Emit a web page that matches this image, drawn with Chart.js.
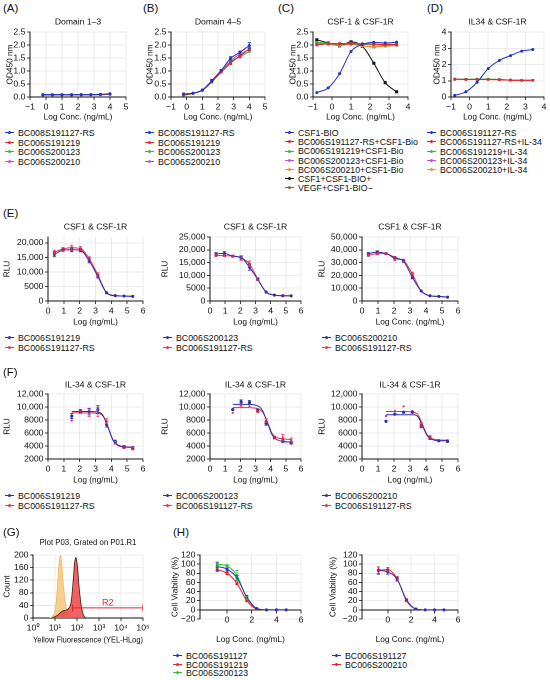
<!DOCTYPE html>
<html lang="en">
<head>
<meta charset="utf-8">
<title>CSF-1R antibody panels</title>
<script src="https://cdn.jsdelivr.net/npm/chart.js@4.4.1/dist/chart.umd.min.js"></script>
<style>
  html, body { margin: 0; padding: 0; background: #fff; }
  body { position: relative; width: 550px; height: 680px; overflow: hidden;
         font-family: 'Liberation Sans', Arial, sans-serif; color: #111; }
  canvas { position: absolute; }
  .tag { position: absolute; font-size: 11.5px; line-height: 14px; }
  .leg { position: absolute; font-size: 8.8px; line-height: 10px; white-space: nowrap; }
  .mk { display: inline-block; position: relative; width: 9px; height: 1px; margin-right: 4px; vertical-align: middle; top: -1px; }
  .mk i { position: absolute; left: 3px; top: -1px; width: 3px; height: 3px; border-radius: 50%; background: inherit; }
</style>
</head>
<body>
<script>
// ---------- data ----------
// (A)/(B) binding ELISA
const abX = [-0.2, 0.4, 1.0, 1.6, 2.2, 2.8, 3.4, 4.0];
const abNames = ['BC008S191127-RS', 'BC006S191219', 'BC006S200123', 'BC006S200210'];
const domain13 = [
  [0.09, 0.09, 0.09, 0.09, 0.09, 0.09, 0.10, 0.12],
  [0.08, 0.08, 0.08, 0.08, 0.08, 0.09, 0.09, 0.11],
  [0.07, 0.07, 0.08, 0.08, 0.08, 0.08, 0.09, 0.10],
  [0.08, 0.08, 0.08, 0.08, 0.09, 0.09, 0.10, 0.13]
];
const domain45 = [
  [0.12, 0.15, 0.27, 0.63, 1.02, 1.48, 1.72, 1.98],
  [0.08, 0.14, 0.26, 0.58, 0.95, 1.30, 1.58, 1.85],
  [0.07, 0.13, 0.25, 0.57, 0.97, 1.35, 1.55, 1.75],
  [0.08, 0.14, 0.27, 0.60, 1.00, 1.38, 1.65, 1.82]
];
const domain45Err = [
  [0, 0, 0, 0.05, 0.03, 0.07, 0.05, 0.12],
  [0, 0, 0, 0, 0, 0.05, 0.08, 0.06]
];
const odTicks = [0, 0.5, 1, 1.5, 2, 2.5];
const abXTicks = [-1, 0, 1, 2, 3, 4, 5];

// (C)/(D) ligand blocking
const cdX = [-0.8, -0.2, 0.4, 1.0, 1.6, 2.2, 2.8, 3.4];
const csfNames = ['CSF1-BIO', 'BC006S191127-RS+CSF1-Bio', 'BC006S191219+CSF1-Bio',
  'BC006S200123+CSF1-Bio', 'BC006S200210+CSF1-Bio', 'CSF1+CSF1-BIO+', 'VEGF+CSF1-BIO\u2212'];
const csfBlock = [
  [0.17, 0.35, 0.90, 1.75, 2.02, 2.10, 2.08, 2.11],
  [2.00, 2.05, 2.06, 2.05, 2.05, 2.03, 2.02, 2.02],
  [2.10, 2.07, 2.05, 2.06, 2.03, 2.02, 2.00, 2.01],
  [2.05, 2.06, 2.05, 2.07, 2.05, 2.04, 2.03, 2.03],
  [2.08, 2.03, 1.98, 2.02, 1.96, 1.94, 1.95, 1.98],
  [2.20, 2.08, 1.97, 2.12, 1.95, 1.30, 0.55, 0.20],
  [2.08, 2.04, 2.00, 2.06, 1.98, 1.93, 1.97, 2.00]
];
const il34Names = ['BC006S191127-RS', 'BC006S191127-RS+IL-34', 'BC006S191219+IL-34',
  'BC006S200123+IL-34', 'BC006S200210+IL-34'];
const il34Block = [
  [0.10, 0.32, 0.90, 1.75, 2.25, 2.55, 2.82, 2.92],
  [1.10, 1.08, 1.08, 1.08, 1.07, 1.03, 1.02, 1.03],
  [1.10, 1.09, 1.10, 1.10, 1.08, 1.05, 1.03, 1.03],
  [1.09, 1.09, 1.09, 1.09, 1.07, 1.04, 1.03, 1.03],
  [1.08, 1.08, 1.08, 1.08, 1.06, 1.04, 1.02, 1.02]
];
const cdXTicks = [-1, 0, 1, 2, 3, 4];
const il34YTicks = [0, 1, 2, 3, 4];

// (E)/(F) reporter assays, RLU
const eX = [0.4, 0.95, 1.5, 2.05, 2.6, 3.15, 3.7, 4.25, 4.8, 5.35];
const fX = [1.5, 2.05, 2.6, 3.15, 3.7, 4.25, 4.8, 5.35];
const logTicks = [0, 1, 2, 3, 4, 5, 6];
const pairNames = [
  ['BC006S191219', 'BC006S191127-RS'],
  ['BC006S200123', 'BC006S191127-RS'],
  ['BC006S200210', 'BC006S191127-RS']
];
const eRLU = [
  [[16000, 17500, 17600, 17400, 13800, 8400, 2800, 1800, 1700, 1600],
   [16800, 17900, 18300, 18000, 14600, 9000, 2900, 1900, 1700, 1600]],
  [[18400, 18600, 17500, 17000, 13200, 8400, 3500, 2300, 2100, 2000],
   [17800, 17700, 17600, 16800, 14500, 8600, 3400, 2300, 2000, 2000]],
  [[37000, 38200, 37000, 34000, 31000, 18500, 7800, 4000, 3600, 3000],
   [35800, 37000, 37000, 33000, 31500, 21000, 7900, 4100, 3500, 2900]]
];
const eErr = [
  [[800, 400, 600, 500, 700, 500, 0, 0, 0, 0], [700, 500, 900, 700, 600, 700, 0, 0, 0, 0]],
  [[500, 700, 300, 600, 1200, 400, 0, 0, 0, 0], [400, 400, 300, 900, 1100, 500, 0, 0, 0, 0]],
  [[800, 900, 500, 600, 900, 1200, 0, 0, 0, 0], [900, 700, 600, 1500, 1200, 1500, 0, 0, 0, 0]]
];
const eYMax = [22000, 25000, 50000];
const eYTicks = [
  [0, 5000, 10000, 15000, 20000],
  [0, 5000, 10000, 15000, 20000, 25000],
  [0, 10000, 20000, 30000, 40000, 50000]
];
const fRLU = [
  [[8600, 9400, 9300, 9600, 7300, 4600, 3900, 3700],
   [7900, 9200, 9100, 9200, 7800, 4500, 3800, 3600]],
  [[9600, 10800, 10700, 9500, 7500, 5300, 4800, 4500],
   [9100, 10300, 10100, 9300, 7900, 5300, 5300, 4900]],
  [[7800, 8900, 9200, 9200, 7100, 5200, 4800, 4700],
   [8600, 9400, 10100, 9400, 7300, 5400, 4900, 4900]]
];
const fErr = [
  [[400, 200, 500, 600, 400, 300, 200, 200], [0, 200, 600, 700, 400, 200, 200, 200]],
  [[0, 300, 300, 200, 300, 200, 300, 200], [0, 200, 0, 200, 300, 200, 500, 300]],
  [[0, 0, 0, 0, 300, 200, 0, 0], [0, 0, 0, 0, 300, 200, 0, 0]]
];
const fFitX = [1.5, 2.5, 3.2, 3.5, 3.8, 4.1, 4.4, 4.8, 5.35];
const fFit = [
  [[9300, 9300, 9200, 8600, 6800, 4900, 4100, 3850, 3800],
   [9100, 9100, 9000, 8500, 6900, 5000, 4200, 3900, 3800]],
  [[10400, 10400, 10100, 9300, 7500, 5700, 5000, 4700, 4600],
   [9900, 9900, 9700, 9100, 7600, 5900, 5300, 5100, 5000]],
  [[8800, 8800, 8800, 8500, 7000, 5500, 5000, 4800, 4800],
   [9300, 9300, 9200, 8800, 7200, 5600, 5100, 4950, 4900]]
];
const fYTicks = [2000, 4000, 6000, 8000, 10000, 12000];

// (G) flow cytometry histogram, x in decades of YEL-HLog
const gXOrange = [0.75, 0.85, 0.95, 1.0, 1.05, 1.1, 1.15, 1.2, 1.25, 1.3, 1.35, 1.4, 1.45, 1.5, 1.55, 1.6, 1.7];
const gOrange = [0, 3, 12, 25, 50, 95, 145, 185, 200, 180, 135, 95, 60, 38, 20, 8, 0];
const gXRed = [0.85, 1.0, 1.1, 1.2, 1.3, 1.4, 1.5, 1.6, 1.7, 1.75, 1.8, 1.85, 1.9, 1.95, 2.0, 2.05, 2.1, 2.2, 2.3, 2.4];
const gRed = [0, 4, 8, 14, 20, 24, 25, 28, 40, 60, 95, 140, 180, 192, 175, 140, 95, 35, 8, 0];
const gGateX = [1.8, 5.0];
const gGateY = [32, 32];
const gXTicks = [0, 1, 2, 3, 4, 5];
const gXLabels = ['10\u2070', '10\u00b9', '10\u00b2', '10\u00b3', '10\u2074', '10\u2075'];
const gYTicks = [0, 40, 80, 120, 160, 200];

// (H) cell viability
const hX = [-0.8, 0, 0.8, 1.6, 2.4, 3.2, 4.0, 4.8];
const h1Names = ['BC006S191127', 'BC006S191219', 'BC006S200123'];
const h1 = [
  [95, 89, 70, 28, 3, 0, 0, 0],
  [88, 80, 58, 20, 2, 0, 0, 0],
  [100, 96, 75, 26, 3, 0, 0, 0]
];
const h1Err = [[9, 4, 5, 4, 0, 0, 0, 0], [4, 3, 3, 2, 0, 0, 0, 0], [5, 3, 11, 3, 0, 0, 0, 0]];
const h2Names = ['BC006S191127', 'BC006S200210'];
const h2 = [
  [86, 83, 67, 22, 2, 0, 0, 0],
  [87, 88, 68, 20, 2, 0, 0, 0]
];
const h2Err = [[8, 5, 4, 2, 0, 0, 0, 0], [7, 5, 5, 2, 0, 0, 0, 0]];
const hXTicks = [0, 2, 4, 6];
const hYTicks = [-20, 0, 20, 40, 60, 80, 100, 120];

// ---------- styling ----------
const INK = '#111';
const GRID = '#e4e4e4';
const TICK_PX = 8.7, AXIS_PX = 8.3, TITLE_PX = 8.6;
const HALF = AXIS_PX * 1.2 / 2;
const BLUE = '#2233c4', RED = '#e8222c', GREEN = '#2dbf3c', MAGENTA = '#c24de0',
      ORANGE = '#f48a34', BLACK = '#111111', BROWN = '#9c5b2c';
const abColors = [BLUE, RED, GREEN, MAGENTA];
const csfColors = [BLUE, RED, GREEN, MAGENTA, ORANGE, BLACK, BROWN];
const il34Colors = [BLUE, RED, GREEN, MAGENTA, ORANGE];
const pairColors = ['#2b2fae', '#ea3350'];
const hColors = [BLUE, RED, GREEN];

Chart.defaults.font.family = "'Liberation Sans', Arial, sans-serif";
Chart.defaults.font.size = 8;
Chart.defaults.color = INK;

const minus = v => (v < 0 ? '\u2212' + Math.abs(v) : String(v));
const oneDp = v => v.toFixed(1);
const rlu = v => (v >= 10000 ? v.toLocaleString('en-US') : String(v));

function series(xs, ys, color, extra) {
  return Object.assign({
    data: xs.map((x, i) => ({x, y: ys[i]})),
    borderColor: color, backgroundColor: color,
    borderWidth: 1, pointRadius: 1.5, pointHoverRadius: 0, pointBorderWidth: 0,
    cubicInterpolationMode: 'monotone'
  }, extra);
}

// vertical error bars from dataset.err
const errorBars = {
  id: 'errorBars',
  afterDatasetsDraw(chart) {
    const {ctx, scales: {x, y}} = chart;
    chart.data.datasets.forEach(ds => {
      if (!ds.err) return;
      ctx.save();
      ctx.strokeStyle = ds.borderColor;
      ctx.lineWidth = 0.8;
      ds.data.forEach((p, j) => {
        const e = ds.err[j];
        if (!e) return;
        const px = x.getPixelForValue(p.x);
        const t = y.getPixelForValue(p.y + e), b = y.getPixelForValue(p.y - e);
        ctx.beginPath();
        ctx.moveTo(px, t); ctx.lineTo(px, b);
        ctx.moveTo(px - 1.6, t); ctx.lineTo(px + 1.6, t);
        ctx.moveTo(px - 1.6, b); ctx.lineTo(px + 1.6, b);
        ctx.stroke();
      });
      ctx.restore();
    });
  }
};

const gateLabel = {
  id: 'gateLabel',
  afterDatasetsDraw(chart) {
    const {ctx, scales: {x, y}} = chart;
    ctx.save();
    ctx.fillStyle = RED;
    ctx.font = "9px 'Liberation Sans', Arial, sans-serif";
    ctx.textAlign = 'center';
    ctx.textBaseline = 'bottom';
    ctx.fillText('R2', x.getPixelForValue(3.4), y.getPixelForValue(34));
    ctx.restore();
  }
};

function axis(o) {
  return {
    type: 'linear', min: o.min, max: o.max, position: o.position,
    afterBuildTicks: s => { s.ticks = o.ticks.map(v => ({value: v})); },
    afterFit: s => {
      if (o.isX) s.height = o.size; else s.width = o.size;
      s.paddingLeft = s.paddingRight = s.paddingTop = s.paddingBottom = 0;
    },
    grid: {color: GRID, lineWidth: 0.7, tickColor: INK, tickLength: 3, tickWidth: 0.8},
    border: {color: INK, width: 1},
    ticks: {color: INK, font: {size: TICK_PX}, padding: o.isX ? 2 : 1.5, maxRotation: 0, minRotation: 0,
            autoSkip: false, callback: (v, i) => o.fmt(v, i)},
    title: {display: !!o.title, text: o.title, color: INK, font: {size: AXIS_PX}, padding: 0}
  };
}

// box: plot area (x0..x1, y0..y1) in page px, tx = y-title centre, ty = title centre, xt = x-title centre
function panel(box, title, datasets, xo, yo, plugins) {
  const left = Math.round(box.tx - HALF);
  const top = Math.round(box.ty != null ? box.ty - TITLE_PX * 0.6 : box.y0 - 6);
  const right = Math.round(box.x1 + (box.r || 7));
  const bottom = Math.round(box.xt + 6);
  const c = document.createElement('canvas');
  c.width = right - left;
  c.height = bottom - top;
  Object.assign(c.style, {left: left + 'px', top: top + 'px',
    width: (right - left) + 'px', height: (bottom - top) + 'px'});
  document.body.appendChild(c);

  const onZero = box.zero != null;
  const xH = box.xt + HALF - (onZero ? box.zero : box.y1);
  xo.isX = true; xo.size = xH;
  yo.size = box.x0 - left;
  if (onZero) xo.position = {y: 0};

  new Chart(c, {
    type: 'line',
    data: {datasets},
    options: {
      responsive: false, animation: false, devicePixelRatio: 2,
      layout: {padding: {
        left: 0, right: right - box.x1,
        top: box.ty != null ? 0 : box.y0 - top,
        bottom: onZero ? bottom - box.y1 : bottom - box.y1 - xH
      }},
      plugins: {
        legend: {display: false}, tooltip: {enabled: false},
        title: {display: !!title, text: title, fullSize: false, color: INK,
                font: {size: box.ts || TITLE_PX, weight: 'normal'},
                padding: {top: 0, bottom: box.y0 - top - (box.ts || TITLE_PX) * 1.2}}
      },
      scales: {x: axis(xo), y: axis(yo)}
    },
    plugins: [errorBars].concat(plugins || [])
  });
}

function legend(x, y, step, names, colors) {
  names.forEach((n, i) => {
    const d = document.createElement('div');
    d.className = 'leg';
    d.style.left = x + 'px';
    d.style.top = (y + i * step - 5) + 'px';
    d.innerHTML = '<span class="mk" style="background:' + colors[i] + '"><i></i></span>' + n;
    document.body.appendChild(d);
  });
}

function tag(x, y, t) {
  const d = document.createElement('div');
  d.className = 'tag';
  d.style.left = x + 'px';
  d.style.top = (y - 7) + 'px';
  d.textContent = t;
  document.body.appendChild(d);
}

// ---------- row 1: A-D ----------
const odAxis = () => ({min: 0, max: 2.5, ticks: odTicks, fmt: oneDp, title: 'OD450 nm'});
const concAxis = (max, ticks) => ({min: -1, max, ticks, fmt: minus, title: 'Log Conc. (ng/mL)'});

panel({x0: 30, x1: 126, y0: 32, y1: 97, tx: 10, ty: 22, xt: 117}, 'Domain 1\u20133',
  domain13.map((ys, i) => series(abX, ys, abColors[i])),
  concAxis(5, abXTicks), odAxis());
panel({x0: 171, x1: 265, y0: 32, y1: 97, tx: 150, ty: 22, xt: 117}, 'Domain 4\u20135',
  domain45.map((ys, i) => series(abX, ys, abColors[i], {err: domain45Err[i]})),
  concAxis(5, abXTicks), odAxis());
panel({x0: 313, x1: 408, y0: 32, y1: 97, tx: 293, ty: 22, xt: 117}, 'CSF-1 & CSF-1R',
  csfBlock.map((ys, i) => series(cdX, ys, csfColors[i],
    i >= 5 ? {pointStyle: 'rect', pointRadius: 2.2} : {})),
  concAxis(4, cdXTicks), odAxis());
panel({x0: 451, x1: 544, y0: 32, y1: 97, tx: 437, ty: 22, xt: 117, r: 5}, 'IL34 & CSF-1R',
  il34Block.map((ys, i) => series(cdX, ys, il34Colors[i],
    i > 0 ? {pointStyle: 'rect', pointRadius: 1.8} : {})),
  concAxis(4, cdXTicks), {min: 0, max: 4, ticks: il34YTicks, fmt: String, title: 'OD450 nm'});

legend(5, 133, 9.6, abNames, abColors);
legend(145, 133, 9.6, abNames, abColors);
legend(285, 133, 9.2, csfNames, csfColors);
legend(427, 133, 9.3, il34Names, il34Colors);

// ---------- rows 2-3: E, F ----------
const eBoxes = [
  {x0: 48, x1: 143, tx: 7},
  {x0: 210, x1: 301, tx: 165},
  {x0: 362, x1: 458, tx: 322}
];
const eXTitles = ['Log (ng/mL)', 'Log (ng/mL)', 'Log Conc. (ng/mL)'];
const legX = [5, 163, 322];

eBoxes.forEach((b, k) => {
  panel(Object.assign({y0: 237, y1: 301, ty: 227, xt: 322}, b), 'CSF1 & CSF-1R',
    eRLU[k].map((ys, i) => series(eX, ys, pairColors[i], {err: eErr[k][i]})),
    {min: 0, max: 6, ticks: logTicks, fmt: String, title: eXTitles[k]},
    {min: 0, max: eYMax[k], ticks: eYTicks[k], fmt: rlu, title: 'RLU'});
  legend(legX[k], 338, 10, pairNames[k], pairColors);

  // measured points (no line) plus the fitted curve for each compound
  const fSets = [];
  fRLU[k].forEach((ys, i) => {
    fSets.push(series(fX, ys, pairColors[i], {err: fErr[k][i], showLine: false,
      pointStyle: i ? 'rect' : 'circle', pointRadius: i ? 1.4 : 1.6}));
    fSets.push(series(fFitX, fFit[k][i], pairColors[i], {pointRadius: 0}));
  });
  panel(Object.assign({y0: 394, y1: 459, ty: 385, xt: 480}, b), 'IL-34 & CSF-1R', fSets,
    {min: 0, max: 6, ticks: logTicks, fmt: String, title: 'Log (ng/mL)'},
    {min: 2000, max: 12000, ticks: fYTicks, fmt: rlu, title: 'RLU'});
  legend(legX[k], 496, 10, pairNames[k], pairColors);
});

// ---------- row 4: G, H ----------
panel({x0: 33, x1: 143, y0: 555, y1: 618, tx: 7, ty: 543, xt: 640, ts: 7.8}, 'Plot P03, Grated on P01.R1', [
  series(gGateX, gGateY, RED, {pointStyle: 'line', rotation: 90, pointRadius: 3.5,
    pointBorderWidth: 1.2, borderWidth: 1}),
  series(gXRed, gRed, '#3a1c1c', {fill: 'origin', backgroundColor: 'rgba(238,72,72,0.85)',
    pointRadius: 0, borderWidth: 0.8, cubicInterpolationMode: 'default', tension: 0.35}),
  series(gXOrange, gOrange, 'rgba(236,170,90,0.9)', {fill: 'origin',
    backgroundColor: 'rgba(248,200,128,0.9)', pointRadius: 0, borderWidth: 0.6,
    cubicInterpolationMode: 'default', tension: 0.35})
],
  {min: 0, max: 5, ticks: gXTicks, fmt: (v, i) => gXLabels[i], title: 'Yellow Fluorescence (YEL-HLog)'},
  {min: 0, max: 200, ticks: gYTicks, fmt: String, title: 'Count'}, [gateLabel]);

const viabAxis = () => ({min: -20, max: 120, ticks: hYTicks, fmt: minus, title: 'Cell Viability (%)'});
const hConcAxis = () => ({min: -2.2, max: 6, ticks: hXTicks, fmt: minus, title: 'Log Conc. (ng/mL)'});

panel({x0: 200, x1: 301, y0: 555, y1: 619, tx: 175, xt: 640, zero: 610}, null,
  h1.map((ys, i) => series(hX, ys, hColors[i], {err: h1Err[i]})), hConcAxis(), viabAxis());
panel({x0: 362, x1: 458, y0: 555, y1: 619, tx: 333, xt: 640, zero: 610}, null,
  h2.map((ys, i) => series(hX, ys, hColors[i], {err: h2Err[i]})), hConcAxis(), viabAxis());

legend(173, 656, 8.6, h1Names, hColors);
legend(332, 656, 8.6, h2Names, hColors);

// ---------- panel letters ----------
[[3, 8, '(A)'], [143, 8, '(B)'], [278, 8, '(C)'], [427, 8, '(D)'],
 [3, 213, '(E)'], [3, 372, '(F)'], [3, 532, '(G)'], [173, 532, '(H)']]
  .forEach(a => tag(a[0], a[1], a[2]));
</script>
</body>
</html>
